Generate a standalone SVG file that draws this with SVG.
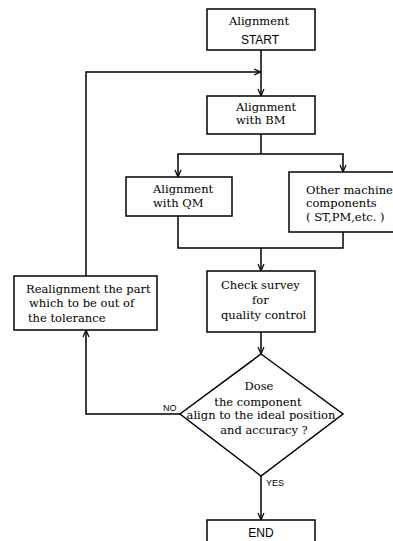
<svg xmlns="http://www.w3.org/2000/svg" width="393" height="541" viewBox="0 0 393 541">
<style>
.box{fill:#fff;stroke:#000;stroke-width:1.5}
.ln{fill:none;stroke:#000;stroke-width:1.5}
.t{font-family:"DejaVu Serif","Liberation Serif",serif;font-size:11.5px;fill:#000}
.s{font-family:"Liberation Sans",Arial,sans-serif;font-size:12px;fill:#000}
.lbl{font-family:"Liberation Sans",Arial,sans-serif;font-size:9px;fill:#000}
</style>
<defs>
<marker id="arr" markerUnits="userSpaceOnUse" markerWidth="12" markerHeight="10" viewBox="-8 -5 10 10" refX="0" refY="0" orient="auto">
<path d="M-7,-3 L0,0 L-7,3" fill="none" stroke="#000" stroke-width="1.2"/>
</marker>
</defs>
<g id="connectors">
<path class="ln" d="M261,50 V96" marker-end="url(#arr)"/>
<path class="ln" d="M86,276 V72 H261" marker-end="url(#arr)"/>
<path class="ln" d="M261,134 V154"/>
<path class="ln" d="M261,154 H178 V177" marker-end="url(#arr)"/>
<path class="ln" d="M261,154 H343 V172" marker-end="url(#arr)"/>
<path class="ln" d="M178,216 V248 H343 V232"/>
<path class="ln" d="M261,248 V271" marker-end="url(#arr)"/>
<path class="ln" d="M261,332 V354" marker-end="url(#arr)"/>
<path class="ln" d="M180,414 H86 V330" marker-end="url(#arr)"/>
<path class="ln" d="M261,476 V520" marker-end="url(#arr)"/>
<text class="lbl" x="163" y="411">NO</text>
<text class="lbl" x="266" y="486">YES</text>
</g>
<g id="start">
<rect class="box" x="207" y="9" width="108" height="41"/>
<text class="t" x="259" y="25" text-anchor="middle">Alignment</text>
<text class="s" x="260" y="44" text-anchor="middle">START</text>
</g>
<g id="bm">
<rect class="box" x="207" y="96" width="108" height="38"/>
<text class="t" x="236" y="111">Alignment</text>
<text class="t" x="236" y="124">with BM</text>
</g>
<g id="qm">
<rect class="box" x="126" y="177" width="106" height="39"/>
<text class="t" x="153" y="193">Alignment</text>
<text class="t" x="153" y="207">with QM</text>
</g>
<g id="other">
<rect class="box" x="289" y="172" width="120" height="60"/>
<text class="t" x="306" y="194">Other machine</text>
<text class="t" x="306" y="207">components</text>
<text class="t" x="306" y="221">( ST,PM,etc. )</text>
</g>
<g id="check">
<rect class="box" x="207" y="271" width="108" height="61"/>
<text class="t" x="221" y="289">Check survey</text>
<text class="t" x="252" y="304">for</text>
<text class="t" x="221" y="319">quality control</text>
</g>
<g id="realign">
<rect class="box" x="14" y="276" width="143" height="54"/>
<text class="t" x="26" y="293">Realignment the part</text>
<text class="t" x="29" y="307">which to be out of</text>
<text class="t" x="28" y="322">the tolerance</text>
</g>
<g id="decision">
<polygon class="box" points="261,354 343,414 261,476 180,414"/>
<text class="t" x="259" y="390" text-anchor="middle">Dose</text>
<text class="t" x="258" y="406" text-anchor="middle">the component</text>
<text class="t" x="261" y="419" text-anchor="middle">align to the ideal position</text>
<text class="t" x="264" y="434" text-anchor="middle">and accuracy ?</text>
</g>
<g id="end">
<rect class="box" x="207" y="520" width="108" height="30"/>
<text class="s" x="261" y="537" text-anchor="middle">END</text>
</g>
</svg>
